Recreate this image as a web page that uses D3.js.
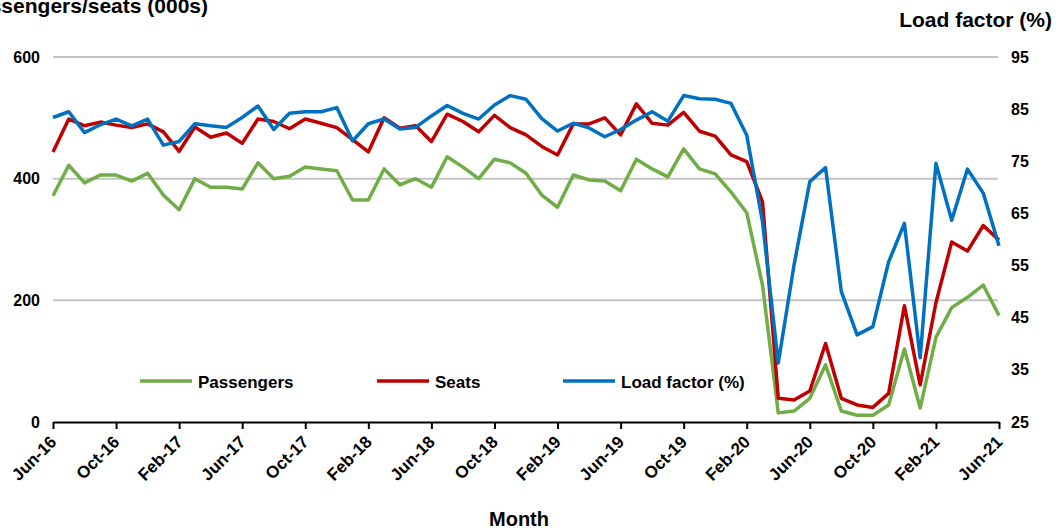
<!DOCTYPE html>
<html>
<head>
<meta charset="utf-8">
<script src="https://cdn.jsdelivr.net/npm/d3@7/dist/d3.min.js"></script>
<style>
html,body{margin:0;padding:0;background:#fff;}
svg{display:block;font-family:"Liberation Sans",Arial,sans-serif;font-weight:bold;}
</style>
</head>
<body>
<svg id="chart" width="1060" height="530"></svg>
<script>
const months = ["Jun-16","Jul-16","Aug-16","Sep-16","Oct-16","Nov-16","Dec-16",
"Jan-17","Feb-17","Mar-17","Apr-17","May-17","Jun-17","Jul-17","Aug-17","Sep-17","Oct-17","Nov-17","Dec-17",
"Jan-18","Feb-18","Mar-18","Apr-18","May-18","Jun-18","Jul-18","Aug-18","Sep-18","Oct-18","Nov-18","Dec-18",
"Jan-19","Feb-19","Mar-19","Apr-19","May-19","Jun-19","Jul-19","Aug-19","Sep-19","Oct-19","Nov-19","Dec-19",
"Jan-20","Feb-20","Mar-20","Apr-20","May-20","Jun-20","Jul-20","Aug-20","Sep-20","Oct-20","Nov-20","Dec-20",
"Jan-21","Feb-21","Mar-21","Apr-21","May-21","Jun-21"];

const passengers = [372,422,393,406,406,396,409,373,349,400,386,386,383,426,400,404,419,416,413,365,365,416,390,400,386,436,419,400,432,426,409,373,353,406,398,396,380,432,416,403,449,416,408,378,344,225,15,18,39,94,18,11,11,28,120,23,139,188,205,225,175];

const seats = [444,498,487,493,488,484,490,477,445,485,468,475,458,498,494,482,498,491,484,464,444,500,483,487,461,506,494,477,504,484,472,453,439,490,490,500,472,523,491,488,509,478,470,439,428,362,39,36,51,129,39,28,24,47,191,61,196,296,281,323,299];

const loadFactor = [83.4,84.5,80.5,82.0,83.1,81.8,83.1,78.1,78.8,82.2,81.8,81.5,83.4,85.6,81.1,84.2,84.5,84.5,85.3,78.9,82.2,83.1,81.2,81.5,83.7,85.7,84.2,83.1,85.8,87.6,86.9,83.2,80.8,82.3,81.4,79.7,81.1,82.9,84.5,82.7,87.6,87.0,86.9,86.1,80.0,63.4,36.3,55.1,71.1,73.8,50.0,41.7,43.3,55.7,63.1,37.3,74.6,63.7,73.5,68.9,58.8];

const xTickLabels = ["Jun-16","Oct-16","Feb-17","Jun-17","Oct-17","Feb-18","Jun-18","Oct-18","Feb-19","Jun-19","Oct-19","Feb-20","Jun-20","Oct-20","Feb-21","Jun-21"];
const leftTicks = [0,200,400,600];
const rightTicks = [25,35,45,55,65,75,85,95];

const seriesNames = ["Passengers","Seats","Load factor (%)"];
const seriesColors = ["#70AD47","#C00000","#0070C0"];

const svg = d3.select("#chart");
const x = d3.scalePoint().domain(months).range([53, 999]);
const yL = d3.scaleLinear().domain([0,600]).range([422,57]);
const yR = d3.scaleLinear().domain([25,95]).range([422,57]);

// gridlines
svg.append("g").selectAll("line").data(leftTicks.filter(d=>d>0)).join("line")
  .attr("x1",53).attr("x2",998)
  .attr("y1",d=>yL(d)).attr("y2",d=>yL(d))
  .attr("stroke","#c4c4c4").attr("stroke-width",2);

// left axis labels
const gL = svg.append("g").attr("transform","translate(53,0)")
  .call(d3.axisLeft(yL).tickValues(leftTicks).tickSize(0).tickPadding(13));
gL.select(".domain").remove();
gL.selectAll("text").attr("font-size",16).attr("font-weight","bold").attr("fill","#000")
  .attr("font-family","Liberation Sans, Arial, sans-serif");

// right axis labels
const gR = svg.append("g").attr("transform","translate(999,0)")
  .call(d3.axisRight(yR).tickValues(rightTicks).tickSize(0).tickPadding(12));
gR.select(".domain").remove();
gR.selectAll("text").attr("font-size",16).attr("font-weight","bold").attr("fill","#000")
  .attr("font-family","Liberation Sans, Arial, sans-serif");

// x axis
const gX = svg.append("g").attr("transform","translate(0,422)")
  .call(d3.axisBottom(x).tickValues(xTickLabels).tickSizeInner(7).tickSizeOuter(0));
gX.select(".domain").attr("stroke","#000").attr("stroke-width",2);
gX.selectAll(".tick line").attr("stroke","#000").attr("stroke-width",2);
gX.selectAll("text")
  .attr("font-size",17).attr("font-weight","bold").attr("fill","#000")
  .attr("font-family","Liberation Sans, Arial, sans-serif")
  .attr("text-anchor","end").attr("y",0).attr("dy",0)
  .attr("transform","translate(4,21) rotate(-45)");

// lines
const seriesData = [passengers, seats, loadFactor];
const scales = [yL, yL, yR];
seriesData.forEach((vals,k)=>{
  const line = d3.line().x((d,i)=>x(months[i])).y(d=>scales[k](d));
  svg.append("path").datum(vals)
    .attr("fill","none").attr("stroke",seriesColors[k])
    .attr("stroke-width",3.5).attr("stroke-linejoin","round")
    .attr("d",line);
});

// legend
const legendX = [140, 377, 563];
const lg = svg.append("g");
seriesNames.forEach((n,k)=>{
  lg.append("line").attr("x1",legendX[k]).attr("x2",legendX[k]+52)
    .attr("y1",381).attr("y2",381).attr("stroke",seriesColors[k]).attr("stroke-width",3.5);
  lg.append("text").attr("x",legendX[k]+58).attr("y",388)
    .attr("font-size",17).attr("fill","#000").text(n);
});

// axis titles
svg.append("text").attr("x",208).attr("y",13).attr("text-anchor","end")
  .attr("font-size",21).attr("fill","#000").text("Passengers/seats (000s)");
svg.append("text").attr("x",1052).attr("y",27).attr("text-anchor","end")
  .attr("font-size",21).attr("fill","#000").text("Load factor (%)");
svg.append("text").attr("x",519).attr("y",526).attr("text-anchor","middle")
  .attr("font-size",20).attr("fill","#000").text("Month");
</script>
</body>
</html>
